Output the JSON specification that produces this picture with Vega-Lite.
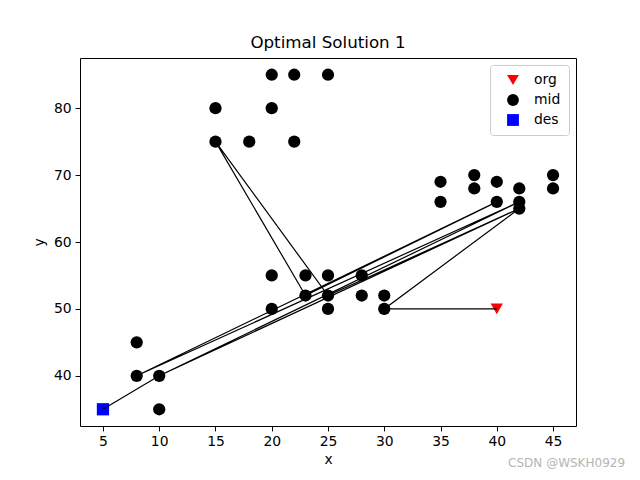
{
  "$schema": "https://vega.github.io/schema/vega-lite/v6.json",
  "width": 496,
  "height": 368,
  "autosize": {"type": "none"},
  "padding": {"left": 80, "top": 58, "right": 64, "bottom": 54},
  "background": "white",
  "title": {"text": "Optimal Solution 1", "font": "DejaVu Sans", "fontSize": 16.7, "fontWeight": "normal", "color": "black", "offset": 6},
  "config": {
    "view": {"stroke": "black", "strokeWidth": 1},
    "axis": {"labelFont": "DejaVu Sans", "labelFontSize": 13.9, "labelColor": "black", "tickColor": "black", "tickSize": 4.9, "tickWidth": 1, "labelPadding": 4, "titleFont": "DejaVu Sans", "titleFontSize": 13.9, "titleFontWeight": "normal", "titleColor": "black", "grid": false, "domain": false},
    "legend": {"labelFont": "DejaVu Sans", "labelFontSize": 13.9, "labelColor": "black"}
  },
  "datasets": {
    "pts": [
      {"x": 40, "y": 50, "type": "org"},
      {"x": 20, "y": 85, "type": "mid"}, {"x": 22, "y": 85, "type": "mid"}, {"x": 25, "y": 85, "type": "mid"},
      {"x": 15, "y": 80, "type": "mid"}, {"x": 20, "y": 80, "type": "mid"},
      {"x": 15, "y": 75, "type": "mid"}, {"x": 18, "y": 75, "type": "mid"}, {"x": 22, "y": 75, "type": "mid"},
      {"x": 35, "y": 69, "type": "mid"}, {"x": 38, "y": 70, "type": "mid"}, {"x": 40, "y": 69, "type": "mid"}, {"x": 42, "y": 68, "type": "mid"}, {"x": 45, "y": 70, "type": "mid"},
      {"x": 35, "y": 66, "type": "mid"}, {"x": 38, "y": 68, "type": "mid"}, {"x": 40, "y": 66, "type": "mid"}, {"x": 42, "y": 66, "type": "mid"}, {"x": 42, "y": 65, "type": "mid"}, {"x": 45, "y": 68, "type": "mid"},
      {"x": 20, "y": 55, "type": "mid"}, {"x": 23, "y": 55, "type": "mid"}, {"x": 25, "y": 55, "type": "mid"}, {"x": 28, "y": 55, "type": "mid"},
      {"x": 23, "y": 52, "type": "mid"}, {"x": 25, "y": 52, "type": "mid"}, {"x": 28, "y": 52, "type": "mid"}, {"x": 30, "y": 52, "type": "mid"},
      {"x": 20, "y": 50, "type": "mid"}, {"x": 25, "y": 50, "type": "mid"}, {"x": 30, "y": 50, "type": "mid"},
      {"x": 8, "y": 45, "type": "mid"}, {"x": 8, "y": 40, "type": "mid"}, {"x": 10, "y": 40, "type": "mid"}, {"x": 10, "y": 35, "type": "mid"},
      {"x": 5, "y": 35, "type": "des"}
    ],
    "route": [
      {"step": 1, "x": 40, "y": 50},
      {"step": 2, "x": 30, "y": 50},
      {"step": 3, "x": 42, "y": 65},
      {"step": 4, "x": 10, "y": 40},
      {"step": 5, "x": 42, "y": 66},
      {"step": 6, "x": 8, "y": 40},
      {"step": 7, "x": 40, "y": 66},
      {"step": 8, "x": 23, "y": 52},
      {"step": 9, "x": 15, "y": 75},
      {"step": 10, "x": 25, "y": 52},
      {"step": 11, "x": 42, "y": 65},
      {"step": 12, "x": 10, "y": 40},
      {"step": 13, "x": 5, "y": 35}
    ],
    "mark": [
      {"label": "CSDN @WSKH0929", "x": 51.4, "y": 26.9}
    ]
  },
  "layer": [
    {
      "data": {"name": "pts"},
      "mark": {"type": "point", "filled": true, "opacity": 1, "size": 150},
      "encoding": {
        "x": {"field": "x", "type": "quantitative", "title": "x", "scale": {"domain": [2.96, 47.04], "nice": false, "zero": false}, "axis": {"values": [5, 10, 15, 20, 25, 30, 35, 40, 45], "titlePadding": 4}},
        "y": {"field": "y", "type": "quantitative", "title": "y", "scale": {"domain": [32.5, 87.5], "nice": false, "zero": false}, "axis": {"values": [40, 50, 60, 70, 80], "titlePadding": 7}},
        "color": {"field": "type", "type": "nominal", "scale": {"domain": ["org", "mid", "des"], "range": ["red", "black", "blue"]},
          "legend": {"title": null, "orient": "top-right", "offset": 7, "padding": 8, "rowPadding": 6, "symbolSize": 140, "symbolOffset": 8, "labelOffset": 14, "strokeColor": "#cccccc", "fillColor": "rgba(255,255,255,0.8)", "cornerRadius": 3, "symbolOpacity": 1}},
        "shape": {"field": "type", "type": "nominal", "scale": {"domain": ["org", "mid", "des"], "range": ["triangle-down", "circle", "square"]}, "legend": null}
      }
    },
    {
      "data": {"name": "route"},
      "mark": {"type": "line", "color": "black", "strokeWidth": 1.2},
      "encoding": {
        "x": {"field": "x", "type": "quantitative"},
        "y": {"field": "y", "type": "quantitative"},
        "order": {"field": "step", "type": "quantitative"}
      }
    },
    {
      "data": {"name": "mark"},
      "mark": {"type": "text", "align": "right", "baseline": "middle", "font": "DejaVu Sans", "fontSize": 12, "color": "#b5b5b5"},
      "encoding": {
        "x": {"field": "x", "type": "quantitative"},
        "y": {"field": "y", "type": "quantitative"},
        "text": {"field": "label"}
      }
    }
  ]
}
